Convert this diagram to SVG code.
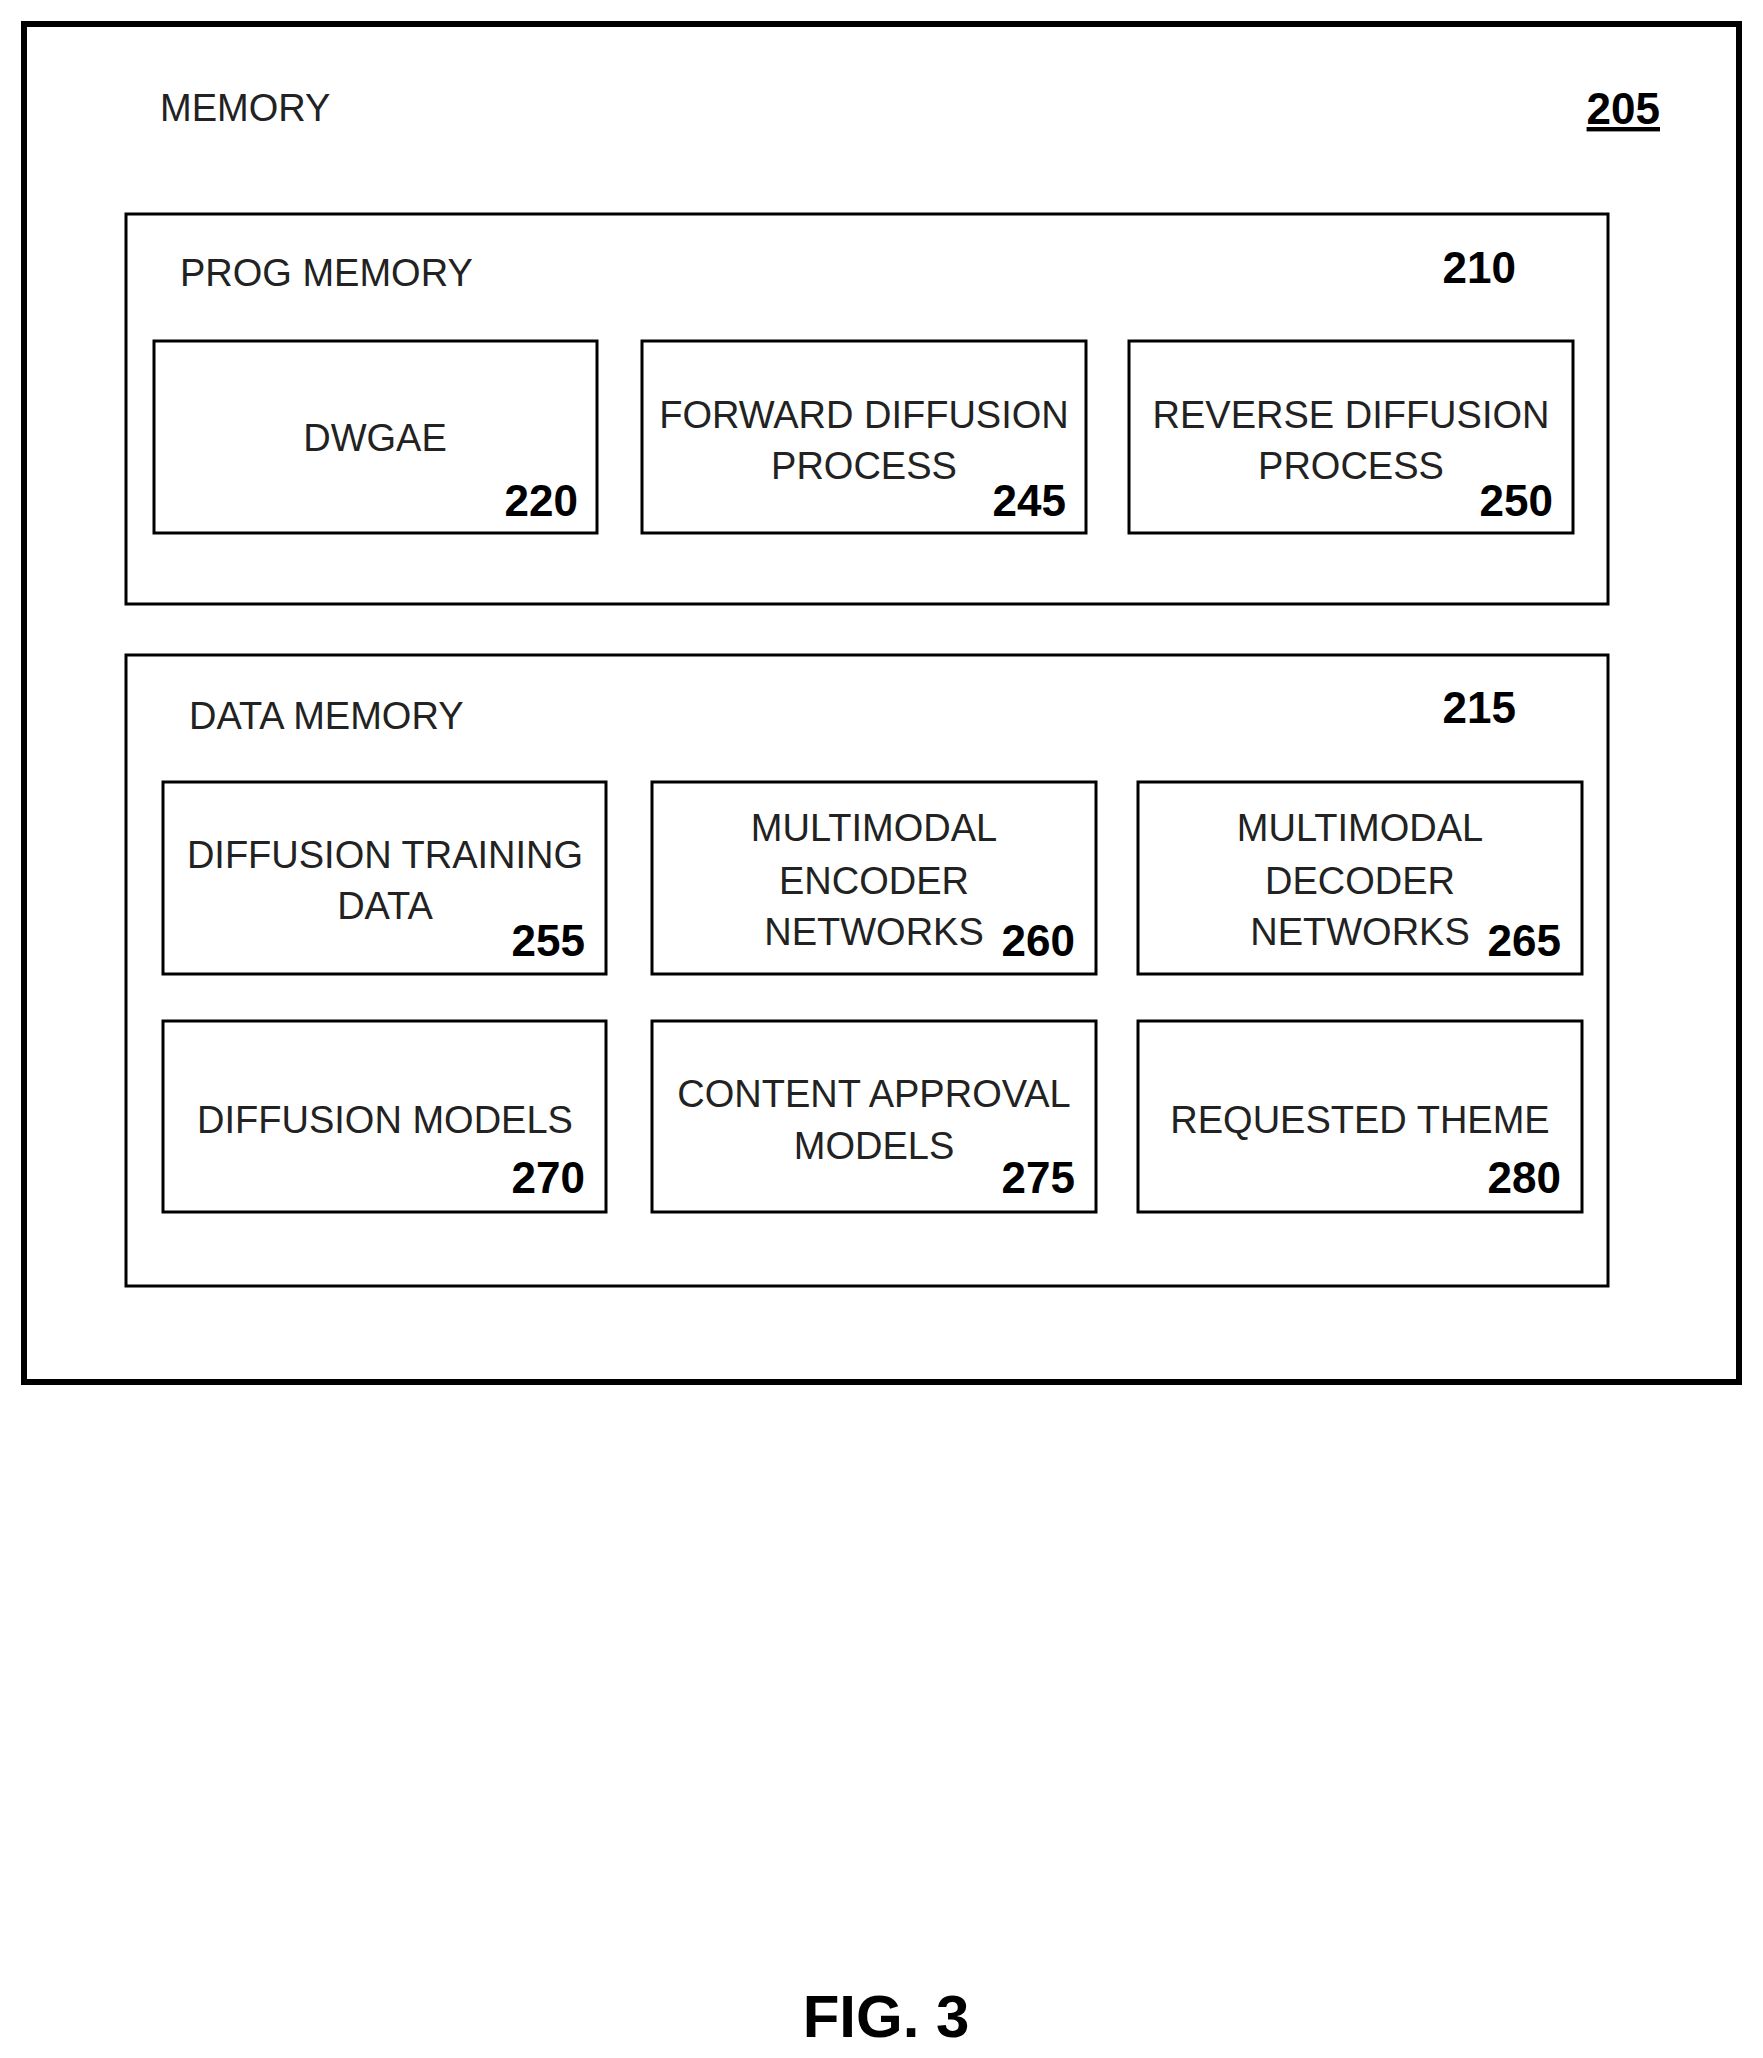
<svg xmlns="http://www.w3.org/2000/svg" width="1763" height="2058" viewBox="0 0 1763 2058">
<style>
.b{fill:#fff;stroke:#000;stroke-width:3}
.t{font-family:"Liberation Sans",Arial,sans-serif;font-size:38px;fill:#222;text-anchor:middle}
.l{font-family:"Liberation Sans",Arial,sans-serif;font-size:38px;fill:#222}
.n{font-family:"Liberation Sans",Arial,sans-serif;font-size:44px;font-weight:bold;fill:#000;text-anchor:end}
</style>
<rect width="1763" height="2058" fill="#fff"/>
<g id="memory">
<rect x="24" y="24" width="1715" height="1358" fill="#fff" stroke="#000" stroke-width="6"/>
<text class="l" x="160" y="121">MEMORY</text>
<text class="n" x="1660" y="124" text-decoration="underline">205</text>
</g>
<g id="prog">
<rect class="b" x="126" y="214" width="1482" height="390"/>
<text class="l" x="180" y="286">PROG MEMORY</text>
<text class="n" x="1516" y="283">210</text>
</g>
<g id="n220"><rect class="b" x="154" y="341" width="443" height="192"/><text class="t" x="375" y="451">DWGAE</text><text class="n" x="578" y="516">220</text></g>
<g id="n245"><rect class="b" x="642" y="341" width="444" height="192"/><text class="t" x="864" y="428">FORWARD DIFFUSION</text><text class="t" x="864" y="479">PROCESS</text><text class="n" x="1066" y="516">245</text></g>
<g id="n250"><rect class="b" x="1129" y="341" width="444" height="192"/><text class="t" x="1351" y="428">REVERSE DIFFUSION</text><text class="t" x="1351" y="479">PROCESS</text><text class="n" x="1553" y="516">250</text></g>
<g id="data">
<rect class="b" x="126" y="655" width="1482" height="631"/>
<text class="l" x="189" y="729">DATA MEMORY</text>
<text class="n" x="1516" y="723">215</text>
</g>
<g id="n255"><rect class="b" x="163" y="782" width="443" height="192"/><text class="t" x="385" y="868">DIFFUSION TRAINING</text><text class="t" x="385" y="919">DATA</text><text class="n" x="585" y="956">255</text></g>
<g id="n260"><rect class="b" x="652" y="782" width="444" height="192"/><text class="t" x="874" y="841">MULTIMODAL</text><text class="t" x="874" y="894">ENCODER</text><text class="t" x="874" y="945">NETWORKS</text><text class="n" x="1075" y="956">260</text></g>
<g id="n265"><rect class="b" x="1138" y="782" width="444" height="192"/><text class="t" x="1360" y="841">MULTIMODAL</text><text class="t" x="1360" y="894">DECODER</text><text class="t" x="1360" y="945">NETWORKS</text><text class="n" x="1561" y="956">265</text></g>
<g id="n270"><rect class="b" x="163" y="1021" width="443" height="191"/><text class="t" x="385" y="1133">DIFFUSION MODELS</text><text class="n" x="585" y="1193">270</text></g>
<g id="n275"><rect class="b" x="652" y="1021" width="444" height="191"/><text class="t" x="874" y="1107">CONTENT APPROVAL</text><text class="t" x="874" y="1159">MODELS</text><text class="n" x="1075" y="1193">275</text></g>
<g id="n280"><rect class="b" x="1138" y="1021" width="444" height="191"/><text class="t" x="1360" y="1133">REQUESTED THEME</text><text class="n" x="1561" y="1193">280</text></g>
<g id="connectors"></g>
<text x="886" y="2037" font-family="Liberation Sans,Arial,sans-serif" font-size="60" font-weight="bold" text-anchor="middle">FIG. 3</text>
</svg>
